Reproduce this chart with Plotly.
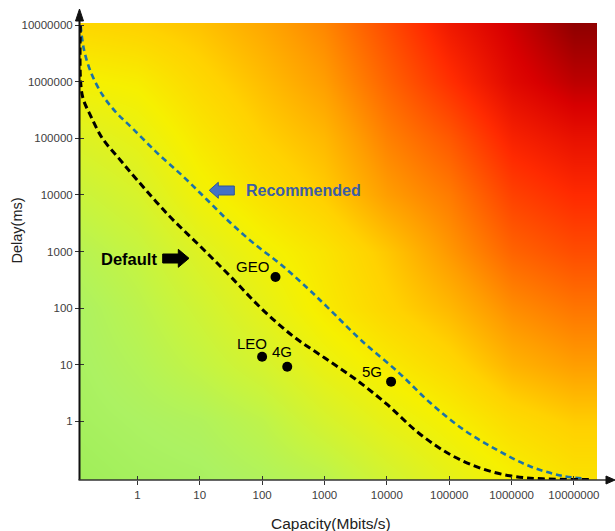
import numpy as np
import plotly.graph_objects as go

# ---------------- data ----------------
heat_capacity = [0.1, 1, 10, 100, 1e3, 1e4, 1e5, 1e6, 1e7]
heat_delay = [0.1, 1, 10, 100, 1e3, 1e4, 1e5, 1e6, 1e7]
# estimated "heat" level (0 = green, 1 = dark red); rows = delay (bottom->top)
heat_level = [
    [0.06, 0.08, 0.09, 0.12, 0.16, 0.25, 0.33, 0.40, 0.45],
    [0.08, 0.10, 0.12, 0.17, 0.26, 0.34, 0.40, 0.47, 0.51],
    [0.09, 0.13, 0.19, 0.26, 0.35, 0.42, 0.48, 0.56, 0.60],
    [0.10, 0.16, 0.24, 0.33, 0.42, 0.49, 0.55, 0.63, 0.67],
    [0.14, 0.20, 0.30, 0.38, 0.44, 0.52, 0.61, 0.70, 0.74],
    [0.21, 0.27, 0.38, 0.45, 0.51, 0.60, 0.66, 0.76, 0.80],
    [0.29, 0.34, 0.43, 0.50, 0.55, 0.65, 0.72, 0.82, 0.86],
    [0.39, 0.41, 0.48, 0.54, 0.60, 0.70, 0.79, 0.88, 0.93],
    [0.48, 0.50, 0.53, 0.58, 0.64, 0.74, 0.84, 0.91, 0.98],
]

default_capacity = [0.1216, 0.123, 0.135, 0.178, 0.275, 0.501, 1.0, 3.16, 10, 31.6,
                    100, 316, 1000, 3160, 10000, 31600, 100000, 316000, 1.0e6, 3.16e6, 2.0e7]
default_delay = [1.0e7, 1.0e6, 501000, 251000, 100000, 44700, 18200, 4370, 1260, 355,
                 95.5, 31.6, 13.2, 5.5, 2.0, 0.631, 0.263, 0.148, 0.107, 0.0955, 0.0933]

recommended_capacity = [0.123, 0.138, 0.178, 0.275, 0.447, 0.832, 2.09, 5.50, 13.2, 31.6,
                        74.1, 200, 525, 1100, 3800, 15800, 50100, 170000, 589000, 2.0e6,
                        6.76e6, 1.41e7]
recommended_delay = [1.0e7, 3.89e6, 1.51e6, 589000, 295000, 151000, 55000, 20900, 8130, 3160,
                     1380, 589, 229, 105, 27.5, 7.08, 2.09, 0.708, 0.309, 0.158,
                     0.107, 0.0977]

tech_names = ["GEO", "LEO", "4G", "5G"]
tech_capacity = [164, 100, 253, 11700]
tech_delay = [355, 13.8, 9.2, 5.0]

tick_values = [1, 10, 100, 1000, 10000, 100000, 1000000, 10000000]
tick_labels = ["1", "10", "100", "1000", "10000", "100000", "1000000", "10000000"]

# ---------------- style ----------------
W, H = 615, 531
ML, MR, MT, MB = 80, 18, 23, 51
PW, PH = W - ML - MR, H - MT - MB
XR = [-0.92, 7.37]
YR = [-1.04, 7.04]
FONT = "Liberation Sans, Arial, sans-serif"
label_shift = [(-23, 10), (-10, 13), (-5, 15), (-19, 10)]

colorscale = [
    [0.00, "#8CE84C"],
    [0.10, "#ACF262"],
    [0.20, "#C6F440"],
    [0.30, "#DEF222"],
    [0.40, "#F6F000"],
    [0.50, "#FFD200"],
    [0.60, "#FF9E00"],
    [0.70, "#FF6400"],
    [0.80, "#FF2A00"],
    [0.90, "#D80000"],
    [1.00, "#7E0000"],
]


def ppx(x):
    return (x - ML) / PW


def ppy(y):
    return (H - MB - y) / PH


fig = go.Figure()

fig.add_trace(go.Heatmap(
    x=heat_capacity, y=heat_delay, z=heat_level,
    colorscale=colorscale, zmin=0, zmax=1, zsmooth="best",
    showscale=False, hoverinfo="skip"))

fig.add_trace(go.Scatter(
    x=recommended_capacity, y=recommended_delay, mode="lines",
    line=dict(color="#1C73A8", width=2.6, dash="6px,4px", shape="spline", smoothing=1.0),
    hoverinfo="skip", showlegend=False))

fig.add_trace(go.Scatter(
    x=default_capacity, y=default_delay, mode="lines",
    line=dict(color="#000000", width=3, dash="7px,4px", shape="spline", smoothing=1.0),
    hoverinfo="skip", showlegend=False))

fig.add_trace(go.Scatter(
    x=tech_capacity, y=tech_delay, mode="markers",
    marker=dict(color="#000000", size=10),
    hoverinfo="skip", showlegend=False))

# overlay axes for the inner half of the tick marks
fig.add_trace(go.Scatter(x=[None], y=[None], xaxis="x2", yaxis="y2",
                         showlegend=False, hoverinfo="skip"))

for name, cx, cy, (dx, dy) in zip(tech_names, tech_capacity, tech_delay, label_shift):
    fig.add_annotation(x=np.log10(cx), y=np.log10(cy), text=name, showarrow=False,
                       xshift=dx, yshift=dy, font=dict(family=FONT, size=15, color="#000000"))

axis_common = dict(type="log", showgrid=False, zeroline=False, showline=False,
                   tickvals=tick_values, ticktext=tick_labels,
                   tickfont=dict(family=FONT, size=11.5, color="#404040"))

fig.update_layout(
    width=W, height=H,
    margin=dict(l=ML, r=MR, t=MT, b=MB),
    paper_bgcolor="white", plot_bgcolor="white",
    xaxis=dict(range=XR, ticks="outside", ticklen=4, tickwidth=1.3, tickcolor="#333333",
               **axis_common),
    yaxis=dict(range=YR, ticks="outside", ticklen=4, tickwidth=1.3, tickcolor="#333333",
               **axis_common),
    xaxis2=dict(range=XR, overlaying="x", anchor="y", side="bottom", ticks="inside",
                ticklen=4, tickwidth=1.3, tickcolor="#333333", showticklabels=False,
                type="log", showgrid=False, zeroline=False, showline=False,
                tickvals=tick_values),
    yaxis2=dict(range=YR, overlaying="y", anchor="x", side="left", ticks="inside",
                ticklen=4, tickwidth=1.3, tickcolor="#333333", showticklabels=False,
                type="log", showgrid=False, zeroline=False, showline=False,
                tickvals=tick_values),
    showlegend=False,
)

# axis titles
fig.add_annotation(xref="paper", yref="paper", x=ppx(331), y=ppy(523), xanchor="center",
                   yanchor="middle", text="Capacity(Mbits/s)",
                   showarrow=False, font=dict(family=FONT, size=15.5, color="#222222"))
fig.add_annotation(xref="paper", yref="paper", x=ppx(16.5), y=ppy(231), xanchor="center",
                   yanchor="middle", text="Delay(ms)",
                   textangle=-90, showarrow=False, font=dict(family=FONT, size=14.5, color="#222222"))

# axis lines with arrow heads
shapes = []
shapes.append(dict(type="line", xref="paper", yref="paper", x0=ppx(79.5), x1=ppx(79.5),
                   y0=ppy(480), y1=ppy(18), line=dict(color="#111111", width=2)))
shapes.append(dict(type="path", xref="paper", yref="paper",
                   path=f"M {ppx(75.5)} {ppy(21)} L {ppx(79.5)} {ppy(9)} L {ppx(83.5)} {ppy(21)} Z",
                   fillcolor="#111111", line=dict(color="#111111", width=1)))
shapes.append(dict(type="line", xref="paper", yref="paper", x0=ppx(78.5), x1=ppx(608),
                   y0=ppy(480), y1=ppy(480), line=dict(color="#333333", width=1.6)))
shapes.append(dict(type="path", xref="paper", yref="paper",
                   path=f"M {ppx(606)} {ppy(476)} L {ppx(615)} {ppy(480)} L {ppx(606)} {ppy(484)} Z",
                   fillcolor="#111111", line=dict(color="#111111", width=1)))

# block arrows next to the labels
shapes.append(dict(type="path", xref="paper", yref="paper",
                   path=(f"M {ppx(162.7)} {ppy(254)} L {ppx(178.3)} {ppy(254)} L {ppx(178.3)} {ppy(249.3)} "
                         f"L {ppx(189)} {ppy(258.3)} L {ppx(178.3)} {ppy(267.3)} L {ppx(178.3)} {ppy(263)} "
                         f"L {ppx(162.7)} {ppy(263)} Z"),
                   fillcolor="#000000", line=dict(color="#000000", width=1)))
shapes.append(dict(type="path", xref="paper", yref="paper",
                   path=(f"M {ppx(234.3)} {ppy(186)} L {ppx(218.3)} {ppy(186)} L {ppx(218.3)} {ppy(182.3)} "
                         f"L {ppx(209.3)} {ppy(190.3)} L {ppx(218.3)} {ppy(198.3)} L {ppx(218.3)} {ppy(195)} "
                         f"L {ppx(234.3)} {ppy(195)} Z"),
                   fillcolor="#4472C4", line=dict(color="#2F5597", width=1)))
fig.update_layout(shapes=shapes)

fig.add_annotation(xref="paper", yref="paper", x=ppx(99), y=ppy(258.5), xanchor="left",
                   yanchor="middle", text="<b>Default</b>", showarrow=False,
                   font=dict(family=FONT, size=16.5, color="#000000"))
fig.add_annotation(xref="paper", yref="paper", x=ppx(244), y=ppy(190), xanchor="left",
                   yanchor="middle", text="<b>Recommended</b>", showarrow=False,
                   font=dict(family=FONT, size=16, color="#3C5DA5"))

fig.write_html("out.html", config={"displayModeBar": False},
               post_script="document.body.style.margin='0px';")
